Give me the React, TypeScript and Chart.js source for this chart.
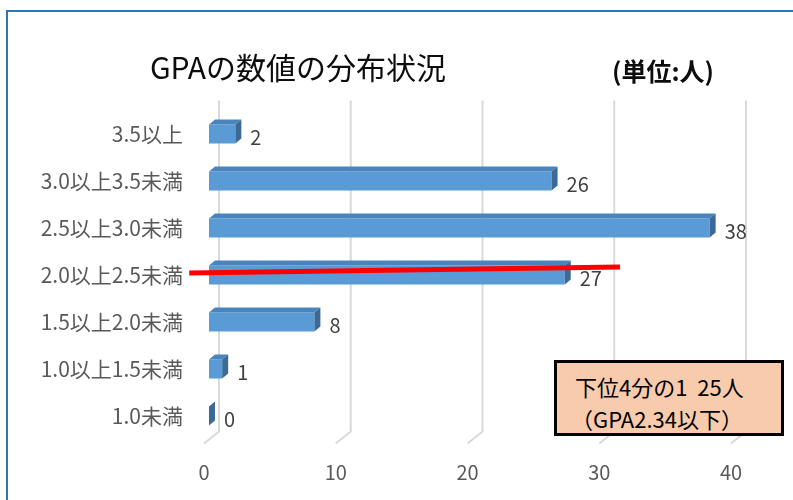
import React, { useEffect, useRef } from "react";
import { Chart, registerables } from "chart.js";

Chart.register(...registerables);

const categories = [
  "3.5以上",
  "3.0以上3.5未満",
  "2.5以上3.0未満",
  "2.0以上2.5未満",
  "1.5以上2.0未満",
  "1.0以上1.5未満",
  "1.0未満",
];
const counts = [2, 26, 38, 27, 8, 1, 0];
const xTicks = [0, 10, 20, 30, 40];
// red marker line in data space: [xValue, categoryIndex]
const redLineStart = [-1.5, 2.96];
const redLineEnd = [31.2, 2.83];

const titleText = "GPAの数値の分布状況";
const unitText = "(単位:人)";
const noteLines = ["下位4分の1  25人", "（GPA2.34以下）"];

const FONT = "'Noto Sans CJK JP', 'Noto Sans', sans-serif";
const DX = 6;
const DY = -5;

const threeD = {
  id: "threeD",
  beforeDatasetsDraw(chart: any) {
    const ctx = chart.ctx;
    const xs = chart.scales.x;
    const area = chart.chartArea;
    ctx.save();
    ctx.strokeStyle = "#D9D9D9";
    ctx.lineWidth = 2;
    for (const v of xTicks) {
      const xf = xs.getPixelForValue(v);
      const xb = xf + 10;
      ctx.beginPath();
      ctx.moveTo(xb, area.top - 10);
      ctx.lineTo(xb, area.bottom - 8);
      ctx.lineTo(xf - 5, area.bottom + 4);
      ctx.stroke();
    }
    ctx.restore();
  },
  afterDatasetsDraw(chart: any) {
    const ctx = chart.ctx;
    const meta = chart.getDatasetMeta(0);
    ctx.save();
    meta.data.forEach((bar: any, i: number) => {
      const x0 = bar.base;
      const x1 = bar.x;
      const top = bar.y - bar.height / 2;
      const bottom = bar.y + bar.height / 2;
      ctx.fillStyle = "#4A84BD";
      ctx.beginPath();
      ctx.moveTo(x0, top);
      ctx.lineTo(x0 + DX, top + DY);
      ctx.lineTo(x1 + DX, top + DY);
      ctx.lineTo(x1, top);
      ctx.closePath();
      ctx.fill();
      ctx.fillStyle = "#3B6A96";
      ctx.beginPath();
      ctx.moveTo(x1, top);
      ctx.lineTo(x1 + DX, top + DY);
      ctx.lineTo(x1 + DX, bottom + DY);
      ctx.lineTo(x1, bottom);
      ctx.closePath();
      ctx.fill();
      ctx.fillStyle = "#404040";
      ctx.font = "20px " + FONT;
      ctx.textAlign = "left";
      ctx.textBaseline = "middle";
      ctx.fillText(String(counts[i]), x1 + 15, bar.y + 3);
    });
    const xs = chart.scales.x;
    const ys = chart.scales.y;
    ctx.strokeStyle = "#FF0000";
    ctx.lineWidth = 5;
    ctx.beginPath();
    ctx.moveTo(xs.getPixelForValue(redLineStart[0]), ys.getPixelForValue(redLineStart[1]));
    ctx.lineTo(xs.getPixelForValue(redLineEnd[0]), ys.getPixelForValue(redLineEnd[1]));
    ctx.stroke();
    ctx.restore();
  },
};

export default function App() {
  const canvasRef = useRef<HTMLCanvasElement>(null);

  useEffect(() => {
    document.body.style.margin = "0";
    const canvas = canvasRef.current;
    if (!canvas) return;
    const chart = new Chart(canvas, {
      type: "bar",
      data: {
        labels: categories,
        datasets: [
          {
            data: counts,
            backgroundColor: "#5B9BD5",
            borderWidth: 0,
            barPercentage: 0.4,
            categoryPercentage: 1,
          },
        ],
      },
      options: {
        indexAxis: "y",
        animation: false,
        responsive: false,
        maintainAspectRatio: false,
        layout: { padding: { top: 110.5, bottom: 0, right: 57, left: 0 } },
        plugins: {
          legend: { display: false },
          tooltip: { enabled: false },
          title: { display: false },
        },
        scales: {
          x: {
            min: 0,
            max: 40,
            grid: { display: false, drawTicks: false },
            border: { display: false },
            ticks: {
              stepSize: 10,
              color: "#595959",
              font: { family: FONT, size: 20 },
              padding: 21,
              labelOffset: -5,
            },
            afterFit: (scale: any) => {
              scale.height = 60.5;
            },
          },
          y: {
            grid: { display: false, drawTicks: false },
            border: { display: false },
            ticks: {
              color: "#595959",
              font: { family: FONT, size: 21 },
              padding: 26,
            },
            afterFit: (scale: any) => {
              scale.width = 209;
            },
          },
        },
      },
      plugins: [threeD],
    });
    return () => chart.destroy();
  }, []);

  return (
    <div style={{ position: "relative", width: 793, height: 500, overflow: "hidden", background: "#fff" }}>
      <div
        style={{
          position: "absolute",
          left: 6,
          top: 10,
          width: 900,
          height: 600,
          borderLeft: "2px solid #2E75B6",
          borderTop: "2px solid #2E75B6",
        }}
      />
      <canvas ref={canvasRef} width={793} height={500} style={{ position: "absolute", left: 0, top: 0 }} />
      <div
        style={{
          position: "absolute",
          left: 0,
          width: 596,
          top: 45,
          textAlign: "center",
          fontFamily: FONT,
          fontSize: 30,
          color: "#0D0D0D",
          lineHeight: "42px",
          whiteSpace: "nowrap",
        }}
      >
        {titleText}
      </div>
      <div
        style={{
          position: "absolute",
          left: 612,
          top: 52,
          fontFamily: FONT,
          fontSize: 25,
          fontWeight: "bold",
          color: "#0D0D0D",
          lineHeight: "36px",
          whiteSpace: "nowrap",
        }}
      >
        {unitText}
      </div>
      <div
        style={{
          position: "absolute",
          left: 554,
          top: 360,
          width: 224,
          height: 70,
          background: "#F8CBAD",
          border: "3px solid #000",
          fontFamily: FONT,
          fontSize: 22,
          color: "#000",
          boxSizing: "content-box",
        }}
      >
        <div style={{ position: "absolute", left: 18, top: 8, lineHeight: "30px", whiteSpace: "pre" }}>{noteLines[0]}</div>
        <div style={{ position: "absolute", left: 14, top: 40, lineHeight: "30px", whiteSpace: "pre" }}>{noteLines[1]}</div>
      </div>
    </div>
  );
}
